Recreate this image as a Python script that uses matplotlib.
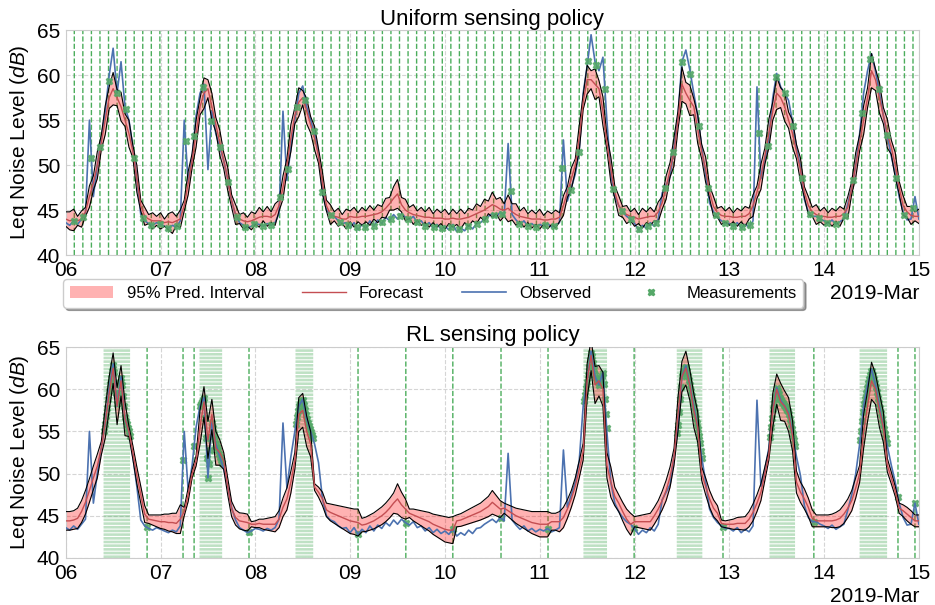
import numpy as np
import pandas as pd
import matplotlib
matplotlib.use("Agg")
import matplotlib.pyplot as plt
import matplotlib.dates as mdates
from matplotlib.patches import Patch
from matplotlib.lines import Line2D

plt.rcParams["font.family"] = ["Liberation Sans", "DejaVu Sans"]
plt.rcParams["mathtext.fontset"] = "custom"
plt.rcParams["mathtext.it"] = "Liberation Sans:italic"
plt.rcParams["mathtext.rm"] = "Liberation Sans"

# ── hourly observed Leq (dB), 2019-03-06 00:00 .. 2019-03-15 00:00 ─────────
obs_06 = [43.6, 43.3, 43.8, 43.4, 44.0, 44.6, 55.0, 46.5, 50.0, 53.0, 56.0, 60.0,
          63.0, 58.0, 61.5, 56.5, 55.0, 52.0, 48.5, 44.5, 43.8, 43.5, 43.3, 43.6]
obs_07 = [43.4, 43.2, 43.0, 43.3, 43.1, 43.8, 55.0, 48.0, 51.0, 55.5, 58.0, 59.0,
          49.5, 56.0, 53.5, 52.0, 50.5, 48.5, 46.0, 44.5, 43.6, 43.3, 43.0, 43.2]
obs_08 = [43.5, 43.4, 43.2, 43.5, 43.3, 43.6, 44.6, 56.0, 48.3, 52.0, 55.0, 58.0,
          58.8, 56.5, 55.0, 53.5, 51.3, 47.0, 45.0, 44.5, 44.3, 43.8, 43.5, 43.6]
obs_09 = [43.0, 43.6, 42.8, 43.4, 43.0, 43.8, 43.2, 43.9, 43.5, 44.2, 43.8, 44.5,
          44.0, 44.6, 44.2, 43.9, 44.3, 43.6, 43.8, 43.2, 43.6, 43.0, 43.4, 42.9]
obs_10 = [43.2, 42.8, 43.4, 42.6, 43.0, 42.7, 43.3, 42.9, 43.5, 43.6, 44.0, 44.3,
          44.6, 44.2, 44.8, 44.4, 52.4, 44.5, 43.9, 43.4, 43.8, 43.2, 43.5, 43.1]
obs_11 = [43.4, 43.2, 43.5, 43.1, 43.3, 43.6, 52.8, 46.0, 47.5, 49.0, 51.5, 58.0,
          61.0, 64.5, 61.5, 60.5, 62.0, 55.0, 49.0, 46.5, 45.5, 44.8, 44.3, 44.0]
obs_12 = [43.5, 42.8, 43.3, 43.0, 43.6, 43.2, 44.0, 46.9, 47.8, 48.7, 52.0, 55.5,
          61.5, 62.8, 60.6, 58.0, 55.5, 52.0, 49.0, 45.8, 44.8, 44.2, 43.8, 43.5]
obs_13 = [43.5, 43.2, 43.6, 43.0, 43.4, 43.1, 43.8, 58.7, 48.5, 50.5, 53.0, 57.5,
          60.2, 58.7, 58.0, 57.2, 54.8, 52.0, 49.8, 46.2, 44.8, 44.3, 44.3, 44.0]
obs_14 = [43.8, 43.5, 43.9, 43.4, 43.7, 44.0, 45.7, 47.5, 50.0, 53.5, 58.0, 60.5,
          62.4, 60.5, 58.0, 55.5, 53.3, 51.0, 49.0, 46.5, 44.8, 43.9, 44.0, 46.5, 44.0]

# ── uniform policy: forecast mean and half-width of the 95% interval ─────────
fc_uni_06 = [44.0, 43.8, 43.9, 43.8, 44.0, 44.8, 46.5, 48.0, 50.0, 52.5, 55.0, 57.5,
             58.5, 57.5, 56.5, 55.0, 53.5, 51.5, 48.5, 45.5, 44.3, 44.0, 43.8, 43.8]
fc_uni_07 = [43.8, 43.6, 43.7, 43.6, 43.8, 44.0, 45.5, 48.0, 50.5, 53.5, 56.5, 58.0,
             58.5, 56.5, 54.5, 52.5, 50.5, 48.5, 46.0, 44.5, 44.0, 43.8, 43.7, 43.8]
fc_uni_08 = [44.0, 44.2, 44.3, 44.3, 44.2, 44.5, 45.5, 47.5, 50.0, 53.0, 55.5, 57.0,
             57.5, 56.0, 54.5, 53.0, 51.0, 48.0, 45.5, 44.5, 44.3, 44.2, 44.0, 44.0]
fc_uni_09 = [44.3, 44.2, 44.2, 44.3, 44.3, 44.4, 44.5, 44.6, 44.8, 45.2, 45.7, 46.3,
             46.8, 45.6, 45.0, 44.7, 44.5, 44.4, 44.3, 44.2, 44.2, 44.1, 44.1, 44.1]
fc_uni_10 = [44.0, 44.0, 44.1, 44.0, 44.0, 44.1, 44.2, 44.4, 44.6, 44.8, 45.0, 45.3,
             45.6, 45.4, 45.1, 45.0, 45.2, 44.8, 44.5, 44.3, 44.2, 44.1, 44.0, 44.0]
fc_uni_11 = [44.0, 43.9, 43.9, 44.0, 44.0, 44.2, 45.5, 47.0, 48.5, 50.0, 53.0, 57.0,
             59.5, 59.5, 59.0, 58.5, 56.0, 52.5, 49.5, 47.0, 45.5, 44.8, 44.5, 44.3]
fc_uni_12 = [44.2, 44.0, 44.1, 44.2, 44.3, 44.3, 44.8, 45.8, 47.5, 49.5, 51.5, 55.0,
             59.0, 58.0, 57.2, 56.5, 54.0, 51.5, 49.5, 47.0, 45.4, 44.7, 44.4, 44.3]
fc_uni_13 = [44.3, 44.2, 44.2, 44.3, 44.3, 44.6, 45.5, 47.0, 48.7, 51.0, 53.5, 56.0,
             58.0, 57.5, 56.5, 55.0, 53.5, 51.5, 49.5, 47.0, 45.5, 44.8, 44.5, 44.3]
fc_uni_14 = [44.3, 44.2, 44.2, 44.3, 44.3, 44.6, 45.3, 47.5, 50.0, 52.5, 55.0, 57.5,
             60.5, 59.5, 57.5, 55.5, 53.5, 52.0, 50.0, 47.5, 45.5, 44.8, 44.4, 44.3, 44.3]

hw_uni_06 = [0.8, 1.0, 1.2, 0.5, 0.9, 0.5, 1.2, 0.8, 1.5, 0.8, 1.6, 1.2,
             1.8, 0.9, 1.6, 0.7, 1.5, 0.7, 1.5, 0.6, 1.0, 0.5, 0.9, 0.5]
hw_uni_07 = [0.9, 0.4, 0.9, 1.2, 0.5, 1.0, 0.6, 1.3, 0.8, 1.5, 0.9, 1.7,
             1.0, 1.5, 0.8, 1.4, 0.9, 1.3, 0.7, 1.1, 0.5, 0.9, 0.5, 1.0]
hw_uni_08 = [0.6, 1.1, 0.5, 1.1, 0.6, 1.2, 0.6, 1.3, 0.7, 1.5, 0.9, 1.6,
             0.8, 1.4, 0.9, 1.3, 0.8, 1.2, 0.6, 1.1, 0.5, 1.0, 0.5, 1.1]
hw_uni_09 = [0.6, 1.1, 0.5, 1.0, 0.6, 1.1, 0.5, 1.0, 0.6, 1.1, 0.7, 1.3,
             1.6, 0.8, 1.2, 0.6, 1.1, 0.5, 1.0, 0.6, 1.1, 0.5, 1.0, 0.6]
hw_uni_10 = [1.1, 0.5, 1.0, 0.6, 1.1, 0.5, 1.0, 0.6, 1.1, 0.6, 1.2, 0.7,
             1.4, 0.8, 1.3, 0.7, 1.5, 0.9, 1.2, 0.6, 1.1, 0.5, 1.0, 0.6]
hw_uni_11 = [1.1, 0.5, 1.0, 0.6, 1.0, 0.5, 1.1, 0.6, 1.2, 0.7, 1.4, 0.8,
             1.6, 1.0, 1.7, 0.9, 1.6, 0.8, 1.4, 0.7, 1.1, 0.6, 1.0, 0.5]
hw_uni_12 = [1.0, 0.5, 1.1, 0.6, 1.0, 0.5, 1.1, 0.7, 1.3, 0.8, 1.6, 1.0,
             1.9, 1.2, 1.7, 0.9, 1.6, 0.8, 1.4, 0.7, 1.1, 0.5, 1.0, 0.6]
hw_uni_13 = [1.0, 0.5, 1.0, 0.6, 1.1, 0.6, 1.2, 0.7, 1.4, 0.9, 1.6, 1.0,
             1.8, 1.1, 1.6, 0.9, 1.5, 0.8, 1.3, 0.6, 1.0, 0.5, 1.1, 0.6]
hw_uni_14 = [1.0, 0.5, 1.0, 0.6, 1.1, 0.5, 1.2, 0.7, 1.4, 0.9, 1.6, 1.1,
             1.9, 1.2, 1.7, 0.9, 1.6, 0.8, 1.4, 0.7, 1.1, 0.6, 1.0, 0.5, 0.8]

# ── RL policy: forecast mean and half-width of the 95% interval ──────────────
fc_rl_06 = [44.4, 44.4, 44.5, 44.7, 45.5, 46.6, 48.0, 49.5, 50.9, 53.0, 56.0, 59.5,
            62.5, 58.0, 61.0, 56.5, 55.0, 52.5, 49.8, 47.5, 45.2, 44.6, 44.5, 44.4]
fc_rl_07 = [44.3, 44.3, 44.2, 44.2, 44.1, 44.6, 45.5, 47.5, 50.0, 51.5, 55.5, 58.5,
            54.0, 57.0, 53.0, 52.5, 51.5, 48.5, 45.8, 44.8, 44.4, 44.3, 44.2, 44.0]
fc_rl_08 = [44.0, 44.1, 44.0, 44.0, 44.0, 44.0, 44.6, 46.0, 47.0, 49.0, 51.5, 57.0,
            57.5, 55.0, 53.5, 48.4, 47.8, 47.0, 45.7, 45.4, 45.2, 45.0, 44.8, 44.6]
fc_rl_09 = [44.4, 44.3, 44.2, 43.9, 44.0, 44.2, 44.4, 44.7, 45.0, 45.4, 45.9, 46.5,
            47.0, 46.3, 45.8, 45.3, 45.1, 44.9, 44.7, 44.5, 44.3, 44.0, 43.8, 43.6]
fc_rl_10 = [43.4, 43.3, 43.3, 44.4, 44.5, 44.7, 44.9, 45.1, 45.3, 45.5, 45.8, 46.1,
            46.6, 46.2, 45.8, 45.9, 45.6, 45.3, 45.0, 44.8, 44.6, 44.4, 44.2, 44.1]
fc_rl_11 = [44.0, 44.0, 44.0, 44.3, 44.3, 44.3, 44.8, 45.8, 47.0, 48.5, 50.5, 52.6,
            61.0, 64.0, 60.5, 61.0, 60.0, 51.0, 49.0, 47.3, 46.5, 45.5, 44.6, 44.0]
fc_rl_12 = [44.3, 44.3, 44.3, 44.3, 44.3, 45.0, 45.8, 46.8, 48.0, 49.6, 52.0, 57.0,
            61.5, 62.5, 60.5, 57.5, 55.5, 50.0, 48.5, 47.0, 45.9, 45.3, 44.1, 44.0]
fc_rl_13 = [44.0, 44.0, 44.1, 44.1, 44.1, 44.6, 45.4, 46.5, 47.8, 50.0, 52.2, 57.5,
            60.0, 58.5, 58.0, 57.0, 54.5, 49.0, 47.8, 47.0, 46.0, 44.7, 44.4, 44.4]
fc_rl_14 = [44.4, 44.4, 44.4, 44.5, 44.7, 45.2, 45.9, 46.8, 48.3, 50.0, 55.0, 58.0,
            61.0, 60.0, 57.5, 55.5, 51.0, 49.5, 47.9, 45.9, 45.6, 45.2, 44.8, 44.4, 44.4]

hw_rl_06 = [1.1, 1.1, 1.1, 1.2, 1.3, 1.4, 1.4, 1.4, 1.4, 0.8, 1.8, 2.0,
            1.8, 2.2, 1.8, 2.0, 0.6, 0.8, 1.0, 1.0, 1.0, 0.5, 0.6, 0.7]
hw_rl_07 = [0.8, 0.9, 1.0, 1.1, 1.2, 1.7, 0.5, 0.8, 0.5, 0.6, 2.0, 1.8,
            2.2, 1.8, 2.0, 1.5, 1.0, 1.0, 0.9, 0.9, 0.95, 1.0, 1.0, 0.3]
hw_rl_08 = [0.4, 0.5, 0.6, 0.7, 0.8, 0.9, 1.0, 1.1, 1.3, 1.3, 1.0, 2.0,
            2.0, 1.8, 1.5, 0.4, 0.6, 0.8, 0.8, 1.0, 1.1, 1.2, 1.3, 1.4]
hw_rl_09 = [1.5, 1.5, 1.6, 0.8, 0.85, 0.9, 0.95, 1.0, 1.05, 1.1, 1.15, 1.2,
            1.8, 1.5, 1.2, 0.5, 0.7, 0.8, 0.9, 1.0, 1.1, 1.2, 1.3, 1.4]
hw_rl_10 = [1.5, 1.5, 1.6, 0.7, 0.75, 0.8, 0.85, 0.9, 0.95, 1.0, 1.1, 1.2,
            1.4, 1.2, 1.0, 0.6, 0.7, 0.8, 0.9, 1.0, 1.1, 1.2, 1.3, 1.4]
hw_rl_11 = [1.5, 1.5, 1.5, 1.0, 1.0, 1.2, 1.2, 1.1, 1.0, 1.0, 1.0, 1.0,
            2.0, 1.8, 2.2, 1.8, 2.0, 1.5, 1.8, 1.1, 1.0, 1.1, 1.2, 1.3]
hw_rl_12 = [0.6, 0.7, 0.8, 0.9, 1.0, 1.0, 1.0, 1.1, 1.2, 1.2, 1.0, 2.0,
            1.8, 2.0, 1.8, 2.0, 1.8, 0.8, 1.0, 1.0, 1.0, 0.9, 0.4, 0.4]
hw_rl_13 = [0.5, 0.6, 0.7, 0.75, 0.8, 0.9, 1.0, 1.0, 1.0, 0.8, 0.6, 2.0,
            1.8, 2.2, 1.8, 2.0, 1.8, 1.3, 1.2, 1.2, 1.1, 1.0, 0.7, 0.7]
hw_rl_14 = [0.7, 0.7, 0.8, 0.9, 1.0, 1.1, 1.1, 1.2, 1.2, 1.0, 2.0, 1.8,
            2.2, 1.8, 2.0, 1.8, 0.8, 0.7, 0.6, 0.6, 0.7, 0.8, 0.8, 0.7, 0.7]

# ── sensing schedules (hours after 2019-03-06 00:00) ────────────────────────
UNIFORM_STEP_H = 130 / 60          # one reading every 130 minutes
RL_DENSE_STEP_H = 0.25             # burst sampling every 15 minutes
rl_bursts = [(9.7, 16.3), (34.0, 39.6), (58.3, 62.6), (131.2, 137.0),
             (154.8, 161.1), (178.3, 184.6), (201.1, 207.9)]
rl_single = [20.6, 29.7, 32.5, 46.4, 74.0, 86.1, 98.0, 110.2, 122.1,
             143.9, 166.4, 189.4, 210.7, 215.0]

# ── assemble series ─────────────────────────────────────────────────────────
observed = np.array(obs_06 + obs_07 + obs_08 + obs_09 + obs_10 + obs_11 +
                    obs_12 + obs_13 + obs_14)
fc_uni = np.array(fc_uni_06 + fc_uni_07 + fc_uni_08 + fc_uni_09 + fc_uni_10 +
                  fc_uni_11 + fc_uni_12 + fc_uni_13 + fc_uni_14)
hw_uni = np.array(hw_uni_06 + hw_uni_07 + hw_uni_08 + hw_uni_09 + hw_uni_10 +
                  hw_uni_11 + hw_uni_12 + hw_uni_13 + hw_uni_14)
fc_rl = np.array(fc_rl_06 + fc_rl_07 + fc_rl_08 + fc_rl_09 + fc_rl_10 +
                 fc_rl_11 + fc_rl_12 + fc_rl_13 + fc_rl_14)
hw_rl = np.array(hw_rl_06 + hw_rl_07 + hw_rl_08 + hw_rl_09 + hw_rl_10 +
                 hw_rl_11 + hw_rl_12 + hw_rl_13 + hw_rl_14)

start = pd.Timestamp("2019-03-06")
hours = np.arange(len(observed))
t0 = mdates.date2num(start)
tx = t0 + hours / 24

uni_meas = np.arange(UNIFORM_STEP_H, hours[-1], UNIFORM_STEP_H)
rl_burst_meas = np.concatenate([np.arange(a, b, RL_DENSE_STEP_H) for a, b in rl_bursts])
rl_meas = np.sort(np.concatenate([rl_burst_meas, rl_single]))

BLUE = "#4c72b0"
RED = "#c44e52"
GREEN = "#55a868"
VLINE = "#4cad5c"


def draw_panel(ax, fc, hw, meas_h, title, burst_h=None, marker_z=5):
    lo, hi = fc - hw, fc + hw
    mx = t0 + meas_h / 24
    sparse = meas_h if burst_h is None else np.setdiff1d(meas_h, burst_h)
    ax.vlines(t0 + sparse / 24, 0, 1, transform=ax.get_xaxis_transform(),
              colors=VLINE, linestyles="--", linewidth=1.0, snap=False, zorder=1)
    if burst_h is not None:
        ax.vlines(t0 + burst_h / 24, 0, 1, transform=ax.get_xaxis_transform(),
                  colors=VLINE, linestyles="--", linewidth=0.5, alpha=0.55,
                  snap=False, zorder=1)
    ax.fill_between(tx, lo, hi, color="red", alpha=0.3, linewidth=0, zorder=2)
    ax.plot(mx, np.interp(meas_h, hours, observed), linestyle="", marker="X",
            markersize=4.5, color=GREEN, alpha=0.85, zorder=marker_z)
    ax.plot(tx, observed, color=BLUE, linewidth=1.2, zorder=3)
    ax.plot(tx, lo, color="black", linewidth=0.8, zorder=4)
    ax.plot(tx, hi, color="black", linewidth=0.8, zorder=4)
    ax.plot(tx, fc, color=RED, linewidth=1.0, zorder=4)

    ax.set_xlim(tx[0], tx[-1])
    ax.set_ylim(40, 65)
    ax.set_yticks([40, 45, 50, 55, 60, 65])
    loc = mdates.DayLocator()
    ax.xaxis.set_major_locator(loc)
    ax.xaxis.set_major_formatter(mdates.ConciseDateFormatter(loc))
    ax.xaxis.get_offset_text().set_fontsize(15)
    ax.tick_params(labelsize=15, length=0, pad=4)
    ax.grid(True, linestyle="--", color="#d5d5d5", linewidth=0.8, zorder=0)
    ax.set_axisbelow(True)
    for s in ax.spines.values():
        s.set_color("#cccccc")
    ax.set_ylabel("Leq Noise Level ($dB$)", fontsize=15)
    ax.set_title(title, fontsize=16, pad=4)


fig = plt.figure(figsize=(9.35, 6.05), dpi=100)
ax1 = fig.add_axes([0.0703, 0.5785, 0.9125, 0.3715])
ax2 = fig.add_axes([0.0703, 0.0777, 0.9125, 0.3487])

draw_panel(ax1, fc_uni, hw_uni, uni_meas, "Uniform sensing policy")
draw_panel(ax2, fc_rl, hw_rl, rl_meas, "RL sensing policy",
           burst_h=rl_burst_meas, marker_z=2.5)

handles = [Patch(facecolor="red", alpha=0.3, edgecolor="none"),
           Line2D([], [], color=RED, linewidth=1.0),
           Line2D([], [], color=BLUE, linewidth=1.2),
           Line2D([], [], color=GREEN, marker="X", markersize=4.5, linestyle="")]
labels = ["95% Pred. Interval", "Forecast", "Observed", "Measurements"]
ax1.legend(handles, labels, loc="upper left", bbox_to_anchor=(-0.003, -0.108),
           borderaxespad=0, ncol=4, fontsize=12, frameon=True, shadow=True,
           fancybox=True, handlelength=2.6, columnspacing=2.3, borderpad=0.4,
           edgecolor="#cccccc")

fig.savefig("out.png", dpi=100)
